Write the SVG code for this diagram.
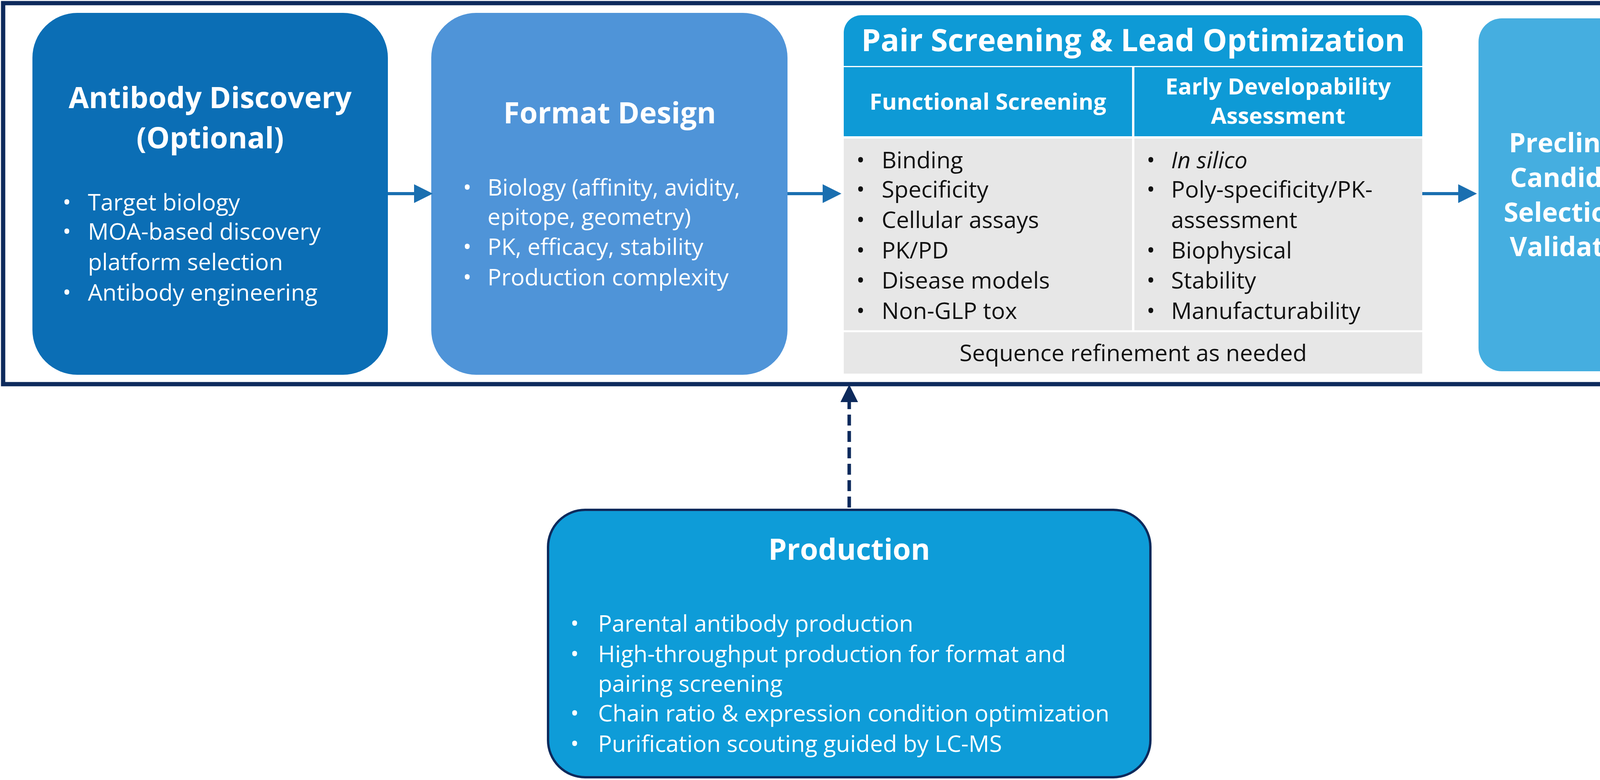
<svg xmlns="http://www.w3.org/2000/svg" width="4348" height="1998" viewBox="0 0 4348 1998">
<style>
text{font-family:"Open Sans","Liberation Sans",sans-serif;fill:#fff}
.t{font-weight:bold;font-size:75px;text-anchor:middle}
.b{font-size:59px}
.d{font-size:59px}
.k{fill:#111}
.h{font-weight:bold;font-size:58px;text-anchor:middle}
</style>
<defs>
<marker id="a" markerWidth="6" markerHeight="6" refX="5" refY="3" orient="auto" markerUnits="strokeWidth"><path d="M0,0L6,3L0,6z" fill="#1A6FB0"/></marker>
<marker id="n" markerWidth="5" markerHeight="5" refX="4" refY="2.5" orient="auto" markerUnits="strokeWidth"><path d="M0,0L5,2.5L0,5z" fill="#0D2A5C"/></marker>
</defs>
<rect x="8" y="8" width="4332" height="976" fill="#fff" stroke="#0D2A5C" stroke-width="11"/>
<g id="discovery">
<rect x="83" y="33" width="910" height="927" rx="115" fill="#0B6EB5"/>
<text class="t" x="538" y="277">Antibody Discovery</text>
<text class="t" x="538" y="380">(Optional)</text>
<g class="b"><text x="160" y="539">•</text><text x="225" y="539">Target biology</text>
<text x="160" y="614">•</text><text x="225" y="614">MOA-based discovery</text>
<text x="225" y="692">platform selection</text>
<text x="160" y="770">•</text><text x="225" y="770">Antibody engineering</text></g>
</g>
<g id="format">
<rect x="1104" y="33" width="912" height="927" rx="115" fill="#4F94D8"/>
<text class="t" x="1561" y="316">Format Design</text>
<g class="b"><text x="1185" y="501">•</text><text x="1248" y="501">Biology (affinity, avidity,</text>
<text x="1248" y="576">epitope, geometry)</text>
<text x="1185" y="653">•</text><text x="1248" y="653">PK, efficacy, stability</text>
<text x="1185" y="731">•</text><text x="1248" y="731">Production complexity</text></g>
</g>
<g id="pair">
<rect x="2160" y="39" width="1481" height="130" rx="45" fill="#0E9AD6"/>
<rect x="2160" y="120" width="1481" height="49" fill="#0E9AD6"/>
<text class="t" x="2901" y="131" style="font-size:79px">Pair Screening &amp; Lead Optimization</text>
<rect x="2160" y="172" width="738" height="177" fill="#0E9AD6"/>
<rect x="2904" y="172" width="737" height="177" fill="#0E9AD6"/>
<text class="h" x="2529" y="281">Functional Screening</text>
<text class="h" x="3272" y="242">Early Developability</text>
<text class="h" x="3272" y="317">Assessment</text>
<rect x="2160" y="355" width="738" height="491" fill="#E7E7E7"/>
<rect x="2904" y="355" width="737" height="491" fill="#E7E7E7"/>
<rect x="2160" y="851" width="1481" height="106" fill="#E7E7E7"/>
<g class="d">
<text class="k" x="2192" y="431">•</text><text class="k" x="2257" y="431">Binding</text>
<text class="k" x="2192" y="506">•</text><text class="k" x="2257" y="506">Specificity</text>
<text class="k" x="2192" y="584">•</text><text class="k" x="2257" y="584">Cellular assays</text>
<text class="k" x="2192" y="662">•</text><text class="k" x="2257" y="662">PK/PD</text>
<text class="k" x="2192" y="739">•</text><text class="k" x="2257" y="739">Disease models</text>
<text class="k" x="2192" y="817">•</text><text class="k" x="2257" y="817">Non-GLP tox</text>
<text class="k" x="2935" y="431">•</text><text class="k" x="2998" y="431" font-style="italic">In silico</text>
<text class="k" x="2935" y="506">•</text><text class="k" x="2998" y="506">Poly-specificity/PK-</text>
<text class="k" x="2998" y="584">assessment</text>
<text class="k" x="2935" y="662">•</text><text class="k" x="2998" y="662">Biophysical</text>
<text class="k" x="2935" y="739">•</text><text class="k" x="2998" y="739">Stability</text>
<text class="k" x="2935" y="817">•</text><text class="k" x="2998" y="817">Manufacturability</text>
<text class="k" x="2901" y="925" text-anchor="middle">Sequence refinement as needed</text>
</g>
</g>
<g id="preclinical">
<rect x="3785" y="47" width="508" height="904" rx="60" fill="#45AEE0"/>
<g class="t" style="font-size:68px"><text x="4039" y="390">Preclinical</text><text x="4039" y="479">Candidate</text><text x="4039" y="568">Selection &amp;</text><text x="4039" y="656">Validation</text></g>
</g>
<g id="production">
<rect x="1403" y="1306" width="1542" height="685" rx="95" fill="#0E9CD8" stroke="#0D2A5C" stroke-width="6"/>
<text class="t" x="2174" y="1434">Production</text>
<g class="b"><text x="1460" y="1618">•</text><text x="1531" y="1618">Parental antibody production</text>
<text x="1460" y="1696">•</text><text x="1531" y="1696">High-throughput production for format and</text>
<text x="1531" y="1772">pairing screening</text>
<text x="1460" y="1848">•</text><text x="1531" y="1848">Chain ratio &amp; expression condition optimization</text>
<text x="1460" y="1926">•</text><text x="1531" y="1926">Purification scouting guided by LC-MS</text></g>
</g>
<g id="connectors" fill="none">
<line x1="993" y1="496" x2="1100" y2="496" stroke="#1A6FB0" stroke-width="8" marker-end="url(#a)"/>
<line x1="2016" y1="496" x2="2146" y2="496" stroke="#1A6FB0" stroke-width="8" marker-end="url(#a)"/>
<line x1="3641" y1="496" x2="3773" y2="496" stroke="#1A6FB0" stroke-width="8" marker-end="url(#a)"/>
<line x1="2174" y1="1300" x2="2174" y2="994" stroke="#0D2A5C" stroke-width="9" stroke-dasharray="28,14" marker-end="url(#n)"/>
</g>
</svg>
